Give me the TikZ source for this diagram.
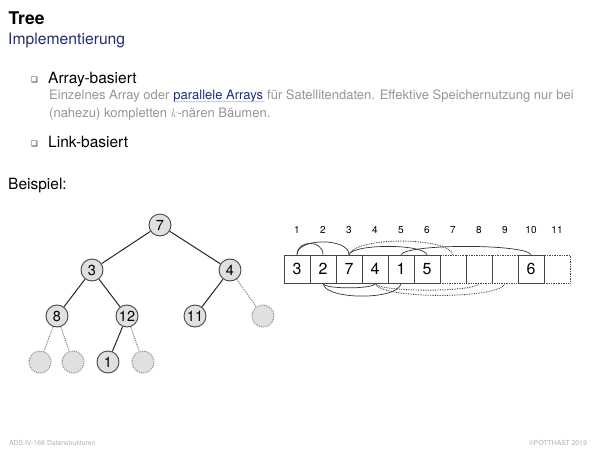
\documentclass[tikz,border=0pt]{standalone}
\usepackage{fontspec}
\setmainfont{TeX Gyre Heros}
\newfontfamily\symfont{DejaVu Sans}
\usetikzlibrary{decorations.pathmorphing}
\definecolor{titleblue}{RGB}{35,45,110}
\definecolor{linkblue}{RGB}{30,45,130}
\definecolor{textgrey}{RGB}{150,150,150}
\definecolor{nodefill}{RGB}{224,224,224}
\definecolor{nodeline}{RGB}{70,70,70}
\definecolor{footgrey}{RGB}{175,175,175}

\tikzset{
  txt/.style={anchor=base west, inner sep=0pt},
  knot/.style={circle, draw=nodeline, fill=nodefill, line width=0.9pt,
    minimum size=22pt, inner sep=0pt, font=\fontsize{14.5}{14.5}\selectfont},
  leer/.style={knot, draw=gray!90, densely dotted, line width=1pt},
  kante/.style={line width=1pt, draw=black!85},
  leerkante/.style={line width=1pt, densely dotted, draw=gray},
  zelle/.style={draw=nodeline, line width=0.7pt, minimum width=26pt,
    minimum height=28pt, inner sep=0pt, font=\fontsize{16}{16}\selectfont},
  leerzelle/.style={zelle, densely dotted, line width=0.9pt},
  bogen/.style={line width=0.7pt, draw=black!80},
  leerbogen/.style={bogen, densely dotted, line width=0.9pt}
}

\begin{document}
\begin{tikzpicture}[x=1pt, y=-1pt]
  \useasboundingbox (0,0) rectangle (600,450);
  \fill[white] (0,0) rectangle (600,450);
  % head
  \node[txt, font=\fontsize{17.5}{20}\selectfont\bfseries] (titel) at (8.5,24) {Tree};
  \node[txt, font=\fontsize{15.7}{18}\selectfont, text=titleblue] (untertitel) at (8,44) {Implementierung};
  % items
  \node[txt, font=\fontsize{7.5}{8}\symfont] (pkt1) at (31,82) {❏};
  \node[txt, font=\fontsize{15.5}{18}\selectfont] (array) at (48,83) {Array-basiert};
  \node[txt, font=\fontsize{13}{17}\selectfont, text=textgrey] (z1a) at (49,99) {Einzelnes Array oder\ \null};
  \node[txt, font=\fontsize{13}{17}\selectfont, text=linkblue] (link) at (z1a.base east) {parallele Arrays};
  \node[txt, font=\fontsize{13}{17}\selectfont, text=textgrey] (z1b) at (link.base east)
    {\null\ für Satellitendaten. Effektive Speichernutzung nur bei};
  \draw[decorate, decoration={snake, amplitude=0.5pt, segment length=2.5pt}, linkblue!35, line width=0.4pt]
    ([yshift=-2.6pt]link.base west) -- ([yshift=-2.6pt]link.base east);
  \node[txt, font=\fontsize{13}{17}\selectfont, text=textgrey] (z2) at (49,117)
    {(nahezu) kompletten $k$-nären Bäumen.};
  \node[txt, font=\fontsize{7.5}{8}\symfont] (pkt2) at (31,146) {❏};
  \node[txt, font=\fontsize{15.5}{18}\selectfont] (link2) at (48,147) {Link-basiert};
  \node[txt, font=\fontsize{15.5}{18}\selectfont] (beispiel) at (8,189) {Beispiel:};

  % tree
  \node[knot] (t7) at (160,225) {7};
  \node[knot] (t3) at (92,270) {3};
  \node[knot] (t4) at (230,270) {4};
  \node[knot] (t8) at (57,316) {8};
  \node[knot] (t12) at (127,316) {12};
  \node[knot] (t11) at (195,316) {11};
  \node[leer] (e1) at (263,316) {};
  \node[leer] (e2) at (40,362) {};
  \node[leer] (e3) at (73,362) {};
  \node[knot] (t1) at (108,362) {1};
  \node[leer] (e4) at (143,362) {};
  \foreach \a/\b in {t7/t3, t7/t4, t3/t8, t3/t12, t4/t11, t12/t1}
    \draw[kante] (\a) -- (\b);
  \foreach \a/\b in {t4/e1, t8/e2, t8/e3, t12/e4}
    \draw[leerkante] (\a) -- (\b);

  % array
  \foreach \i/\v/\s in {1/3/zelle, 2/2/zelle, 3/7/zelle, 4/4/zelle, 5/1/zelle, 6/5/zelle,
      7//leerzelle, 8//leerzelle, 9//leerzelle, 10/6/zelle, 11//leerzelle} {
    \node[\s] (c\i) at ({284+(\i-0.5)*26},269) {\v};
    \node[font=\fontsize{10}{10}\selectfont, inner sep=0pt] (n\i) at ({284+(\i-0.5)*26},230) {\i};
  }
  % links above
  \draw[bogen] (c1.north) .. controls +(0,-15) and +(0,-15) .. (c2.north);
  \draw[bogen] (c1.north) .. controls +(0,-17) and +(0,-17) .. (c3.north);
  \draw[bogen] (c3.north) .. controls +(4,-11) and +(-4,-11) .. (c6.north);
  \draw[leerbogen] (c3.north) .. controls +(6,-18) and +(-6,-18) .. (c7.north);
  \draw[bogen] (c5.north) .. controls +(6,-11) and +(-6,-11) .. (c10.north);
  % links below
  \draw[bogen] (c2.south) .. controls +(0,6) and +(0,6) .. (c4.south);
  \draw[bogen] (c2.south) .. controls +(2,17) and +(-2,17) .. (c5.south);
  \draw[leerbogen] (c4.south) .. controls +(4,9) and +(-4,9) .. (c8.south);
  \draw[leerbogen] (c4.south) .. controls +(4,16) and +(-4,16) .. (c9.south);

  % footer
  \node[txt, font=\fontsize{6.8}{8}\selectfont, text=footgrey] (fuss1) at (9,445) {ADS:IV-168};
  \node[txt, font=\fontsize{6.8}{8}\selectfont, text=footgrey] (fuss2) at (47,445) {Datenstrukturen};
  \node[anchor=base east, inner sep=0pt, font=\fontsize{6.8}{8}\selectfont, text=footgrey] (fuss3)
    at (587,445) {©POTTHAST 2019};
\end{tikzpicture}
\end{document}
